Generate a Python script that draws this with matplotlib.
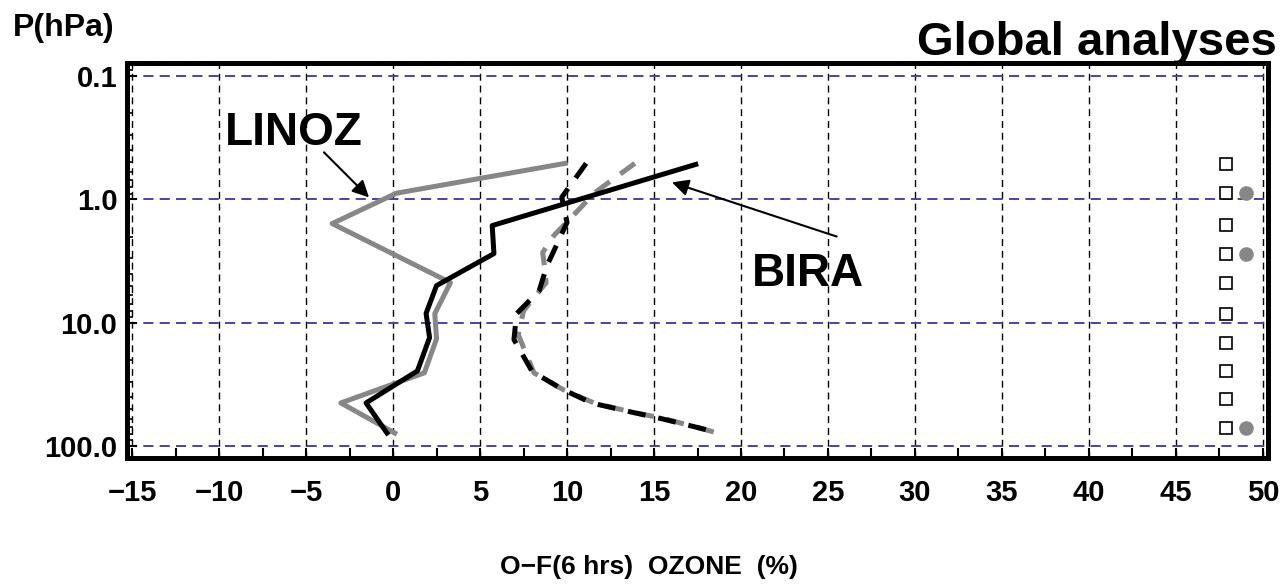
import numpy as np
import matplotlib
matplotlib.use("Agg")
import matplotlib.pyplot as plt
from matplotlib.ticker import LogLocator, NullFormatter, MultipleLocator

plt.rcParams['font.family'] = ['Liberation Sans', 'DejaVu Sans']
plt.rcParams['font.weight'] = 'bold'

# O-F profiles (percent) against pressure (hPa)
linoz_mean_p = [0.51, 0.89, 1.57, 4.73, 8.45, 13.5, 25.5, 44.7, 78.4]
linoz_mean = [9.9, 0.2, -3.5, 3.3, 2.4, 2.5, 1.8, -3.0, 0.1]

bira_mean_p = [0.52, 1.63, 2.75, 4.4, 5.0, 8.4, 13.2, 24.6, 44.7, 78.4]
bira_mean = [17.4, 5.7, 5.8, 3.2, 2.5, 1.9, 2.1, 1.4, -1.55, -0.35]

linoz_sd_p = [0.51, 0.89, 1.16, 1.96, 2.7, 3.44, 4.73, 8.0, 12.5, 25.5, 35.0, 44.7, 52.0, 60.0, 78.0]
linoz_sd = [13.9, 11.55, 10.8, 9.25, 8.6, 8.7, 8.8, 7.5, 7.2, 8.1, 9.8, 11.55, 13.45, 15.6, 18.6]

bira_sd_p = [0.51, 0.96, 1.54, 3.44, 5.5, 8.45, 13.7, 24.9, 34.4, 44.7, 51.9, 60.3, 75.4]
bira_sd = [11.1, 9.7, 10.0, 8.85, 8.4, 7.1, 6.95, 8.0, 9.7, 11.4, 13.4, 15.5, 18.3]

# level markers down the right-hand side
level_p = [0.52, 0.89, 1.6, 2.75, 4.8, 8.5, 14.5, 24.5, 41.5, 71.5]
flagged_p = [0.89, 2.75, 71.5]

x_ticks = [-15, -10, -5, 0, 5, 10, 15, 20, 25, 30, 35, 40, 45, 50]
x_ticklabels = ['\u221215', '\u221210', '\u22125', '0', '5', '10', '15', '20',
                '25', '30', '35', '40', '45', '50']
p_ticks = [0.1, 1.0, 10.0, 100.0]
p_ticklabels = ['0.1', '1.0', '10.0', '100.0']

fig = plt.figure(figsize=(12.88, 5.84), dpi=100)
ax = fig.add_axes([127 / 1288, 1 - 458 / 584, (1268 - 127) / 1288, (458 - 63) / 584])

ax.set_yscale('log')
ax.set_xlim(-15.29, 50.29)
ax.set_ylim(125, 0.0783)

for s in ax.spines.values():
    s.set_linewidth(3.6)

# grid: black dashed verticals, blue dashed horizontals
for xv in x_ticks:
    ax.axvline(xv, color='k', lw=1.0, ls=(0, (5, 3.5)), zorder=1)
for pv in p_ticks:
    ax.axhline(pv, color='#45459e', lw=1.4, ls=(0, (5.2, 3.2)), zorder=1)

gray = '#878787'
ax.plot(linoz_sd, linoz_sd_p, color=gray, lw=3.6, dashes=(3.6, 2.6), zorder=3)
ax.plot(bira_sd, bira_sd_p, color='k', lw=3.6, dashes=(3.6, 2.6), zorder=4)
ax.plot(linoz_mean, linoz_mean_p, color=gray, lw=3.6, zorder=3)
ax.plot(bira_mean, bira_mean_p, color='k', lw=3.6, zorder=4)

ax.plot([47.9] * len(level_p), level_p, ls='none', marker='s', ms=8.6,
        mfc='white', mec='k', mew=1.2, zorder=5)
ax.plot([49.0] * len(flagged_p), flagged_p, ls='none', marker='o', ms=9.5,
        mfc=gray, mec=gray, zorder=5)

ax.set_xticks(x_ticks, labels=x_ticklabels)
ax.xaxis.set_minor_locator(MultipleLocator(2.5))
ax.set_yticks(p_ticks, labels=p_ticklabels)
ax.yaxis.set_minor_locator(LogLocator(base=10, subs=np.arange(2, 10)))
ax.yaxis.set_minor_formatter(NullFormatter())

ax.tick_params(axis='x', which='both', direction='in', length=7, width=1.5,
               top=False, pad=15, labelsize=21)
ax.tick_params(axis='y', which='major', direction='in', length=7, width=1.5,
               right=False, pad=7, labelsize=21)
ax.tick_params(axis='y', which='minor', direction='in', length=4, width=1.2,
               right=False)
for lab in ax.get_xticklabels() + ax.get_yticklabels():
    lab.set_fontweight('bold')

ax.text(-5.7, 0.364, 'LINOZ', ha='center', va='baseline', fontsize=33, fontweight='bold')
ax.text(23.85, 5.0, 'BIRA', ha='center', va='baseline', fontsize=33, fontweight='bold')

arrow = dict(arrowstyle='-|>', color='k', lw=1.5, mutation_scale=25, shrinkA=0, shrinkB=0)
ax.annotate('', xy=(-1.38, 0.963), xytext=(-3.97, 0.415), arrowprops=arrow)
ax.annotate('', xy=(16.03, 0.727), xytext=(25.5, 2.0), arrowprops=arrow)

fig.text(13 / 1288, 1 - 28 / 584, 'P(hPa)', ha='left', va='center', fontsize=23, fontweight='bold')
fig.text(1277 / 1288, 1 - 55 / 584, 'Global analyses', ha='right', va='baseline',
         fontsize=34, fontweight='bold')
fig.text(649 / 1288, 1 - 567 / 584, 'O\u2212F(6 hrs)  OZONE  (%)', ha='center', va='center',
         fontsize=19, fontweight='bold')

fig.savefig('out.png', dpi=100)
